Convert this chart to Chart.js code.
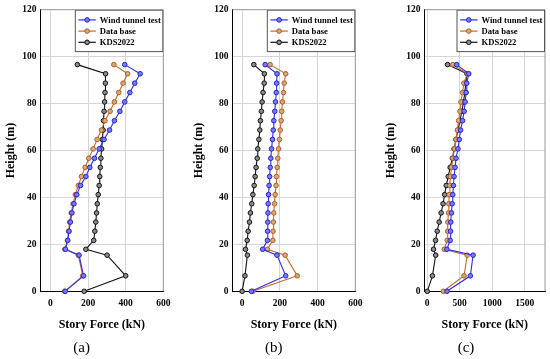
<!DOCTYPE html>
<html><head><meta charset="utf-8">
<script src="https://cdn.jsdelivr.net/npm/chart.js@4.4.1/dist/chart.umd.min.js"></script>
<style>
html,body{margin:0;padding:0;background:#fff;width:550px;height:359px;overflow:hidden}
.p{position:absolute;top:0;height:359px}
</style></head><body>
<div class="p" style="left:0;width:183px"><canvas id="ca"></canvas></div>
<div class="p" style="left:192px;width:183px"><canvas id="cb"></canvas></div>
<div class="p" style="left:384px;width:166px"><canvas id="cc"></canvas></div>
<script>
// Heights of the story levels (m)
const heights = [0, 6.6, 15.4, 17.9, 21.7, 25.6, 29.5, 33.4, 37.3, 41.2, 45.1, 48.9, 52.8, 56.7, 60.7, 64.7, 68.7, 72.7, 76.7, 80.7, 84.7, 88.7, 92.7, 96.6];
const seriesNames = ['Wind tunnel test', 'Data base', 'KDS2022'];
const panelLabels = ['(a)', '(b)', '(c)'];
// Panel (a)
const wtA  = [78, 176, 152, 80, 92, 99, 106, 114, 125, 140, 160, 188, 209, 234, 259, 285, 314, 340, 369, 395, 422, 448, 477, 395];
const dbA  = [75, 172, 148, 76, 90, 96, 102, 110, 120, 132, 148, 165, 184, 204, 227, 248, 271, 290, 317, 340, 363, 386, 410, 337];
const kdsA = [179, 400, 301, 188, 230, 236, 241, 245, 249, 254, 259, 262, 265, 268, 272, 276, 280, 282, 285, 288, 290, 292, 293, 143];
// Panel (b)
const wtB  = [49, 231, 185, 109, 134, 135, 136, 137, 138, 140, 143, 146, 149, 152, 156, 161, 165, 168, 173, 177, 181, 183, 185, 122];
const dbB  = [57, 292, 228, 134, 163, 164, 166, 168, 172, 175, 180, 182, 186, 189, 193, 198, 202, 207, 210, 214, 219, 223, 231, 148];
const kdsB = [0, 15, 28, 18, 27, 32, 39, 44, 51, 57, 64, 69, 74, 80, 83, 89, 94, 97, 102, 106, 111, 117, 118, 62];
// Panel (c)
const wtC  = [305, 664, 706, 304, 354, 359, 364, 374, 384, 394, 404, 414, 429, 444, 474, 494, 514, 544, 569, 584, 599, 609, 640, 454];
const dbC  = [250, 567, 616, 264, 309, 314, 319, 329, 334, 339, 349, 359, 376, 396, 420, 444, 464, 484, 504, 519, 544, 564, 620, 394];
const kdsC = [3, 82, 132, 98, 130, 155, 185, 215, 245, 269, 294, 324, 354, 389, 414, 444, 474, 504, 534, 559, 579, 594, 612, 314];
// Tick labels
const yTicks = [0, 20, 40, 60, 80, 100, 120];
const xTicksAB = [0, 200, 400, 600];
const xTicksC = [0, 500, 1000, 1500];

const SERIF = '"Liberation Serif", "DejaVu Serif", serif';
const styles = [
  {line:'#2b2bf5', border:'#2222d0', fill:'#7a7af5'},
  {line:'#c0692a', border:'#b05e20', fill:'#d9a878'},
  {line:'#111111', border:'#111111', fill:'#8a8a8a'}
];

const framePlugin = {
  id:'frame',
  beforeDatasetsDraw(chart){
    const {ctx, chartArea:a} = chart;
    ctx.save();
    ctx.strokeStyle = '#9a9a9a'; ctx.lineWidth = 1;
    ctx.beginPath();
    ctx.moveTo(a.left, a.top); ctx.lineTo(a.right, a.top); ctx.lineTo(a.right, a.bottom);
    ctx.stroke();
    ctx.restore();
  }
};

const legendPlugin = {
  id:'boxLegend',
  afterDraw(chart){
    const {ctx, chartArea:a} = chart;
    const w = 88.5, h = 42.4;
    const x0 = a.right - w, y0 = a.top;
    ctx.save();
    ctx.fillStyle = '#fff'; ctx.fillRect(x0, y0, w, h);
    ctx.strokeStyle = '#555'; ctx.lineWidth = 1;
    ctx.strokeRect(x0 + 0.5, y0 + 0.5, w - 1, h - 1);
    chart.data.datasets.forEach((d, i) => {
      const y = y0 + 10.2 + i * 11.2;
      ctx.strokeStyle = d.borderColor; ctx.lineWidth = 1.2;
      ctx.beginPath(); ctx.moveTo(x0 + 3.6, y); ctx.lineTo(x0 + 21, y); ctx.stroke();
      ctx.beginPath(); ctx.arc(x0 + 12.3, y, 2.3, 0, Math.PI * 2);
      ctx.fillStyle = d.pointBackgroundColor; ctx.fill();
      ctx.lineWidth = 1; ctx.strokeStyle = d.pointBorderColor; ctx.stroke();
      ctx.fillStyle = '#000'; ctx.font = 'bold 8.6px ' + SERIF;
      ctx.textBaseline = 'middle'; ctx.textAlign = 'left';
      ctx.fillText(d.label, x0 + 25, y + 0.5);
    });
    ctx.restore();
  }
};

function makePanel(id, series, xMin, xMax, xTicks, label, padRight, yTitlePad){
  const datasets = series.map((vals, i) => ({
    label: seriesNames[i],
    data: vals.map((v, k) => ({x: v, y: heights[k]})),
    showLine: true,
    borderColor: styles[i].line,
    borderWidth: 1.1,
    pointRadius: 2.3,
    pointBorderWidth: 1,
    pointBorderColor: styles[i].border,
    pointBackgroundColor: styles[i].fill,
    clip: false
  }));
  new Chart(document.getElementById(id), {
    type: 'scatter',
    data: {datasets},
    options: {
      responsive: true, maintainAspectRatio: false, animation: false,
      devicePixelRatio: 1,
      layout: {padding: {left: 0, right: padRight, top: 8.3, bottom: 0}},
      plugins: {
        legend: {display: false}, tooltip: {enabled: false},
        title: {display: true, position: 'bottom', text: label, color: '#000',
                font: {family: SERIF, size: 15, weight: 'normal'}, padding: {top: 0, bottom: 2}}
      },
      scales: {
        x: {
          type: 'linear', min: xMin, max: xMax,
          afterBuildTicks: s => { s.ticks = xTicks.map(v => ({value: v})); },
          afterFit: s => { s.height = 47.7; },
          grid: {color: '#d6d6d6', drawTicks: false},
          border: {color: '#000', width: 1},
          ticks: {padding: 7, color: '#000', font: {family: SERIF, size: 9.5, weight: 'bold'},
                  callback: v => String(v)},
          title: {display: true, text: 'Story Force (kN)', color: '#000',
                  font: {family: SERIF, size: 12, weight: 'bold'}, padding: {top: 0, bottom: 6.8}}
        },
        y: {
          type: 'linear', min: 0, max: 120,
          afterBuildTicks: s => { s.ticks = yTicks.map(v => ({value: v})); },
          afterFit: s => { s.width = 40.5; },
          grid: {color: '#d6d6d6', drawTicks: false},
          border: {color: '#000', width: 1},
          ticks: {padding: 4, color: '#000', font: {family: SERIF, size: 9.5, weight: 'bold'},
                  callback: v => String(v)},
          title: {display: true, text: 'Height (m)', color: '#000',
                  font: {family: SERIF, size: 12, weight: 'bold'}, padding: {top: yTitlePad, bottom: 0}}
        }
      }
    },
    plugins: [framePlugin, legendPlugin]
  });
}

makePanel('ca', [wtA, dbA, kdsA], -53, 600, xTicksAB, panelLabels[0], 19.7, 4);
makePanel('cb', [wtB, dbB, kdsB], -51, 600, xTicksAB, panelLabels[1], 19.7, 0);
makePanel('cc', [wtC, dbC, kdsC], -40, 1810, xTicksC, panelLabels[2], 2, 0);
</script>
</body></html>
